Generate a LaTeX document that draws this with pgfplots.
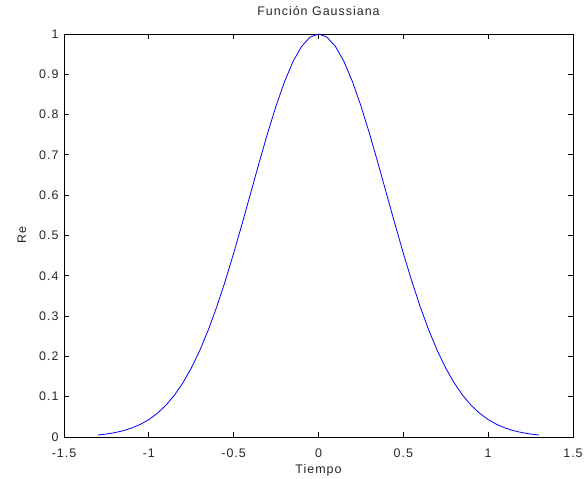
\documentclass[border=0pt]{standalone}
\usepackage{pgfplots}
\pgfplotsset{compat=1.18}
\usepackage{fontspec}
\setmainfont{Liberation Sans}[LetterSpace=8]
\newcommand\lblfont{\fontsize{12.5}{14}\selectfont}

\begin{document}
\begin{tikzpicture}
\useasboundingbox (-64bp,-42bp) rectangle (520bp,437bp);
\begin{axis}[
  scale only axis,
  width=509bp, height=403bp,
  xmin=-1.5, xmax=1.5, ymin=0, ymax=1,
  xtick={-1.5,-1,-0.5,0,0.5,1,1.5},
  xticklabels={-1.5,-1,-0.5,0,0.5,1,1.5},
  ytick={0,0.1,0.2,0.3,0.4,0.5,0.6,0.7,0.8,0.9,1},
  yticklabels={0,0.1,0.2,0.3,0.4,0.5,0.6,0.7,0.8,0.9,1},
  tick align=inside,
  major tick length=5bp,
  axis line style={black, line width=0.8bp},
  every tick/.style={black, line width=0.8bp},
  ticklabel style={font=\lblfont, text=black!85},
  xticklabel style={anchor=center, yshift=-16bp},
  yticklabel style={xshift=-2bp},
  title={Función Gaussiana},
  title style={font=\lblfont, text=black!85,
    at={(axis description cs:0.5,1.043)}, anchor=center},
  xlabel={Tiempo},
  ylabel={Re},
  label style={font=\lblfont, text=black!85},
  xlabel style={at={(axis description cs:0.5,-0.082)}, anchor=center},
  ylabel style={at={(axis description cs:-0.0825,0.5)}, anchor=center},
]
% Gaussian pulse sampled every 0.05 s
\addplot[color={rgb,255:red,0;green,0;blue,255}, line width=0.8bp] coordinates {
(-1.30,0.00495) (-1.25,0.00739) (-1.20,0.01085) (-1.15,0.01569) (-1.10,0.02234)
(-1.05,0.03131) (-1.00,0.04321) (-0.95,0.05872) (-0.90,0.07850) (-0.85,0.10333)
(-0.80,0.13391) (-0.75,0.17081) (-0.70,0.21451) (-0.65,0.26519) (-0.60,0.32272)
(-0.55,0.38661) (-0.50,0.45594) (-0.45,0.52932) (-0.40,0.60490) (-0.35,0.68056)
(-0.30,0.75370) (-0.25,0.82172) (-0.20,0.88191) (-0.15,0.93176) (-0.10,0.96907)
(-0.05,0.99218) (0.00,1.00000) (0.05,0.99218) (0.10,0.96907) (0.15,0.93176)
(0.20,0.88191) (0.25,0.82172) (0.30,0.75370) (0.35,0.68056) (0.40,0.60490)
(0.45,0.52932) (0.50,0.45594) (0.55,0.38661) (0.60,0.32272) (0.65,0.26519)
(0.70,0.21451) (0.75,0.17081) (0.80,0.13391) (0.85,0.10333) (0.90,0.07850)
(0.95,0.05872) (1.00,0.04321) (1.05,0.03131) (1.10,0.02234) (1.15,0.01569)
(1.20,0.01085) (1.25,0.00739) (1.30,0.00495)
};
\end{axis}
\end{tikzpicture}
\end{document}
